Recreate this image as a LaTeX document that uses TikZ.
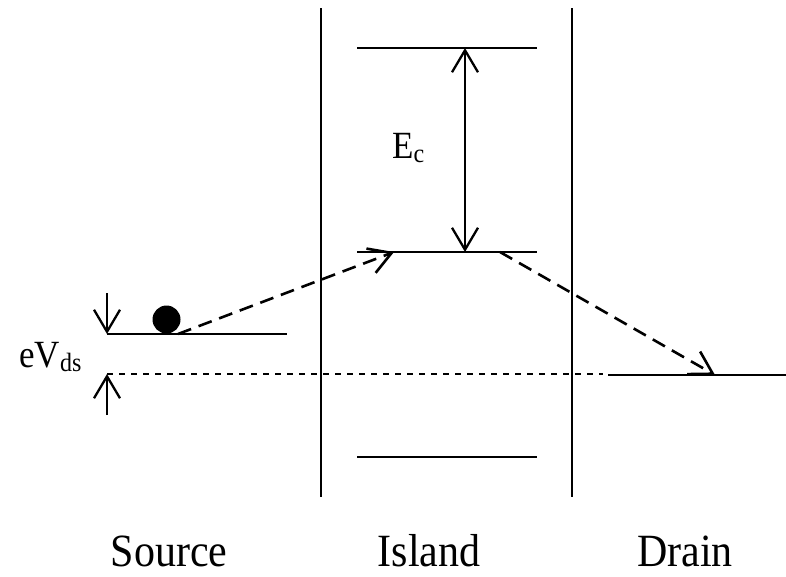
\documentclass[tikz,border=0pt]{standalone}
\usepackage{fontspec}
\setmainfont{Liberation Serif}
\usetikzlibrary{arrows.meta}
\tikzset{
  >={Straight Barb[length=22pt,width=26pt]},
  wall/.style  = {line width=2.3pt},
  level/.style = {line width=2.6pt},
  hop/.style   = {->, line width=2.6pt, dash pattern=on 14pt off 8pt},
  gap/.style   = {line width=2.2pt, dash pattern=on 6pt off 6pt},
  dim/.style   = {->, line width=2.3pt},
  lbl/.style   = {inner sep=0pt, text depth=0pt, anchor=base, font=\fontsize{42}{48}\selectfont},
  sym/.style   = {inner sep=0pt, anchor=base west, font=\fontsize{35}{40}\selectfont}
}
\newcommand{\tall}[1]{\scalebox{1}[1.1]{#1}}

\begin{document}
\begin{tikzpicture}[x=1pt,y=-1pt]
\useasboundingbox (0,0) rectangle (786,576);

% tunnel barriers
\draw[wall] (321,8) -- (321,497);
\draw[wall] (572,8) -- (572,497);

% island levels
\coordinate (top1) at (357,48);   \coordinate (top2) at (537,48);
\coordinate (mid1) at (357,252);  \coordinate (mid2) at (537,252);
\coordinate (bot1) at (357,457);  \coordinate (bot2) at (537,457);
\draw[level] (top1) -- (top2);
\draw[level] (mid1) -- (mid2);
\draw[level] (bot1) -- (bot2);

% source and drain levels
\coordinate (src1) at (107,334);  \coordinate (src2) at (287,334);
\coordinate (drn1) at (608,375);  \coordinate (drn2) at (786,375);
\coordinate (fermi) at (603,374);
\draw[level] (src1) -- (src2);
\draw[level] (drn1) -- (drn2);
\draw[gap] (107,374) -- (fermi);

% electron
\fill (166.5,319.5) circle (14pt);

% charging energy
\coordinate (ecT) at (465,48);
\coordinate (ecB) at (465,252);
\draw[dim, <->] (ecT) -- (ecB);
\node[sym] (Ec) at (392,158) {\tall{E\raisebox{-4pt}{\fontsize{24}{28}\selectfont c}}};

% bias window
\coordinate (upA) at (107,293);
\coordinate (dnA) at (107,415);
\draw[dim] (upA) -- (src1);
\draw[dim] (dnA) -- (107,374);
\node[sym] (eV) at (19,367) {\tall{eV\raisebox{-4pt}{\fontsize{24}{28}\selectfont ds}}};

% tunnelling path
\coordinate (hopA) at (178,334);
\coordinate (hopB) at (394,252);
\coordinate (hopC) at (500,252);
\coordinate (hopD) at (715,375);
\draw[hop] (hopA) -- (hopB);
\draw[hop] (hopC) -- (hopD);

% region labels
\node[lbl] (source) at (169,566) {\tall{Source}};
\node[lbl] (island) at (429,566) {\tall{Island}};
\node[lbl] (drain)  at (685,566) {\tall{Drain}};
\end{tikzpicture}
\end{document}
